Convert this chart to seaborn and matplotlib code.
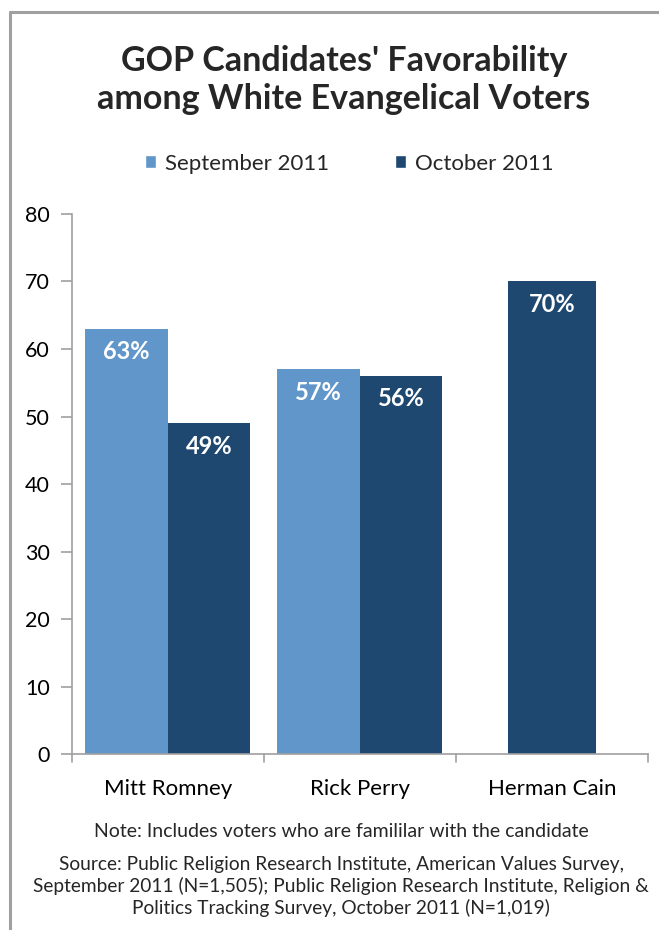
import matplotlib
matplotlib.use("Agg")
import matplotlib.pyplot as plt
import seaborn as sns
import pandas as pd
from matplotlib.lines import Line2D
from matplotlib.patches import Patch

candidates = ["Mitt Romney", "Rick Perry", "Herman Cain"]
periods = ["September 2011", "October 2011"]
sep_values = [63, 57, None]
oct_values = [49, 56, 70]
title = "GOP Candidates' Favorability\namong White Evangelical Voters"
note = "Note: Includes voters who are famililar with the candidate"
source = ("Source: Public Religion Research Institute, American Values Survey,\n"
          "September 2011 (N=1,505); Public Religion Research Institute, Religion &\n"
          "Politics Tracking Survey, October 2011 (N=1,019)")
yticks = [0, 10, 20, 30, 40, 50, 60, 70, 80]

LIGHT = "#6096C9"
DARK = "#1F4870"
GRAY = "#A0A0A0"

sns.set_theme(style="white")
plt.rcParams["font.family"] = ["Lato", "DejaVu Sans"]

rows = []
for c, s, o in zip(candidates, sep_values, oct_values):
    if s is not None:
        rows.append({"candidate": c, "period": periods[0], "value": s})
        rows.append({"candidate": c, "period": periods[1], "value": o})
paired = pd.DataFrame(rows)
single = pd.DataFrame([{"candidate": c, "value": o}
                       for c, s, o in zip(candidates, sep_values, oct_values) if s is None])

fig = plt.figure(figsize=(6.59, 9.30), dpi=100)
ax = fig.add_axes([0.109, 0.189, 0.874, 0.581])

sns.barplot(data=paired, x="candidate", y="value", hue="period", order=candidates,
            hue_order=periods, palette=[LIGHT, DARK], width=0.86, ax=ax,
            saturation=1, legend=False, linewidth=0)
sns.barplot(data=single, x="candidate", y="value", order=candidates, color=DARK,
            width=0.46, ax=ax, saturation=1, linewidth=0)

for cont in ax.containers:
    for bar in cont:
        h = bar.get_height()
        if h is None or h != h or h == 0:
            continue
        ax.annotate(f"{int(round(h))}%", (bar.get_x() + bar.get_width() / 2, h),
                    xytext=(0, -23), textcoords="offset pixels",
                    ha="center", va="center", color="white", fontsize=17,
                    fontweight="bold")

ax.set_ylim(0, 80)
ax.set_yticks(yticks)
ax.set_xlim(-0.5, 2.5)
ax.set_xlabel("")
ax.set_ylabel("")
for s in ["top", "right"]:
    ax.spines[s].set_visible(False)
for s in ["left", "bottom"]:
    ax.spines[s].set_color(GRAY)
    ax.spines[s].set_linewidth(1.2)
ax.tick_params(axis="y", left=True, length=8, color=GRAY, width=1.2, labelsize=15.5,
               pad=8, labelcolor="black")
ax.tick_params(axis="x", bottom=False, labelsize=16, pad=12, labelcolor="black")
for xb in [-0.5, 0.5, 1.5, 2.5]:
    ax.plot([xb, xb], [0, -1.1], color=GRAY, lw=1.2, clip_on=False)

fig.text(0.522, 0.914, title, ha="center", va="center", fontsize=24.5,
         fontweight="bold", linespacing=1.2)

handles = [Patch(facecolor=LIGHT), Patch(facecolor=DARK)]
fig.legend(handles, periods, loc="center", bbox_to_anchor=(0.530, 0.824), ncol=2,
           frameon=False, fontsize=16, handlelength=0.5, handleheight=0.5,
           handletextpad=0.4, columnspacing=3.0)

fig.text(0.518, 0.106, note, ha="center", va="center", fontsize=14)
fig.text(0.518, 0.047, source, ha="center", va="center", fontsize=13.8,
         linespacing=1.25)

fig.add_artist(Line2D([0.0145, 0.0145], [0.0, 0.987], color=GRAY, lw=2.2))
fig.add_artist(Line2D([0.0145, 1.0], [0.987, 0.987], color=GRAY, lw=2.2))

fig.savefig("out.png", dpi=100)
